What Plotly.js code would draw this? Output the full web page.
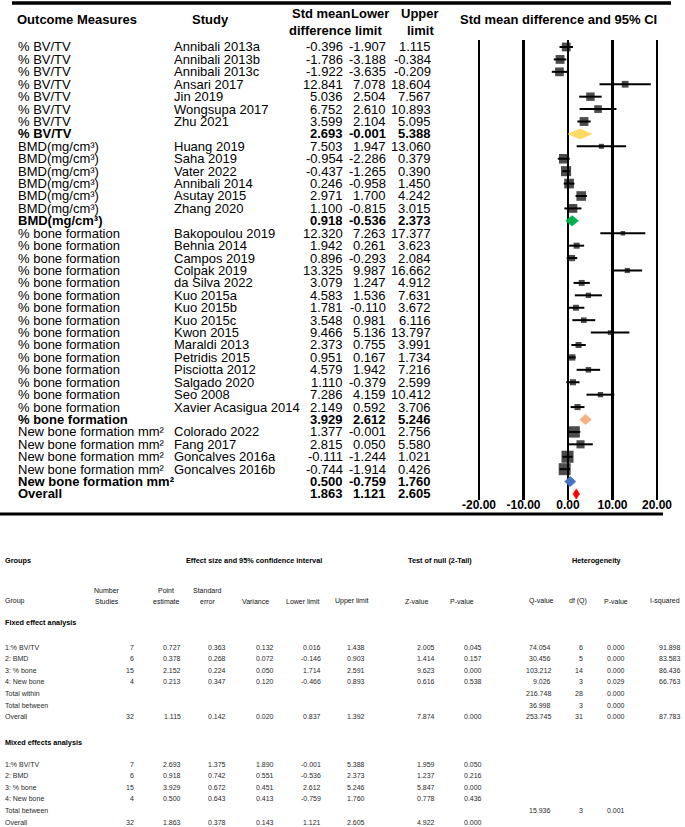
<!DOCTYPE html>
<html><head><meta charset="utf-8">
<script src="https://cdn.plot.ly/plotly-3.0.1.min.js"></script>
<style>html,body{margin:0;padding:0;background:#fff}#chart{width:685px;height:827px}</style>
</head><body><div id="chart"></div>
<script>
// ---------- Forest plot data ----------
const groupNames = ['% BV/TV', 'BMD(mg/cm³)', '% bone formation', 'New bone formation mm²'];
const studyNames = [
  'Annibali 2013a','Annibali 2013b','Annibali 2013c','Ansari 2017','Jin 2019','Wongsupa 2017','Zhu 2021',
  'Huang 2019','Saha 2019','Vater 2022','Annibali 2014','Asutay 2015','Zhang 2020',
  'Bakopoulou 2019','Behnia 2014','Campos 2019','Colpak 2019','da Silva 2022','Kuo 2015a','Kuo 2015b','Kuo 2015c',
  'Kwon 2015','Maraldi 2013','Petridis 2015','Pisciotta 2012','Salgado 2020','Seo 2008','Xavier Acasigua 2014',
  'Colorado 2022','Fang 2017','Goncalves 2016a','Goncalves 2016b'
];
const studyGroup = [0,0,0,0,0,0,0, 1,1,1,1,1,1, 2,2,2,2,2,2,2,2,2,2,2,2,2,2,2, 3,3,3,3];
const studyEst = [-0.396,-1.786,-1.922,12.841,5.036,6.752,3.599,
  7.503,-0.954,-0.437,0.246,2.971,1.100,
  12.320,1.942,0.896,13.325,3.079,4.583,1.781,3.548,9.466,2.373,0.951,4.579,1.110,7.286,2.149,
  1.377,2.815,-0.111,-0.744];
const studyLower = [-1.907,-3.188,-3.635,7.078,2.504,2.610,2.104,
  1.947,-2.286,-1.265,-0.958,1.700,-0.815,
  7.263,0.261,-0.293,9.987,1.247,1.536,-0.110,0.981,5.136,0.755,0.167,1.942,-0.379,4.159,0.592,
  -0.001,0.050,-1.244,-1.914];
const studyUpper = [1.115,-0.384,-0.209,18.604,7.567,10.893,5.095,
  13.060,0.379,0.390,1.450,4.242,3.015,
  17.377,3.623,2.084,16.662,4.912,7.631,3.672,6.116,13.797,3.991,1.734,7.216,2.599,10.412,3.706,
  2.756,5.580,1.021,0.426];
const summaryEst = [2.693, 0.918, 3.929, 0.500];
const summaryLower = [-0.001, -0.536, 2.612, -0.759];
const summaryUpper = [5.388, 2.373, 5.246, 1.760];
const overallEst = [1.863], overallLower = [1.121], overallUpper = [2.605];
const xTickVals = [-20, -10, 0, 10, 20];

// ---------- Table data ----------
const tableGroupLabels = ['1:% BV/TV', '2: BMD', '3: % bone', '4: New bone'];
const fixedN = [7, 6, 15, 4];
const fixedPoint = [0.727, 0.378, 2.152, 0.213];
const fixedSE = [0.363, 0.268, 0.224, 0.347];
const fixedVar = [0.132, 0.072, 0.050, 0.120];
const fixedLo = [0.016, -0.146, 1.714, -0.466];
const fixedHi = [1.438, 0.903, 2.591, 0.893];
const fixedZ = [2.005, 1.414, 9.623, 0.616];
const fixedP = [0.045, 0.157, 0.000, 0.538];
const fixedQ = [74.054, 30.456, 103.212, 9.026];
const fixedDf = [6, 5, 14, 3];
const fixedQP = [0.000, 0.000, 0.000, 0.029];
const fixedI2 = [91.898, 83.583, 86.436, 66.763];
const fixedTotalWithin = [216.748, 28, 0.000];
const fixedTotalBetween = [36.998, 3, 0.000];
const fixedOverall = [32, 1.115, 0.142, 0.020, 0.837, 1.392, 7.874, 0.000, 253.745, 31, 0.000, 87.783];
const mixedN = [7, 6, 15, 4];
const mixedPoint = [2.693, 0.918, 3.929, 0.500];
const mixedSE = [1.375, 0.742, 0.672, 0.643];
const mixedVar = [1.890, 0.551, 0.451, 0.413];
const mixedLo = [-0.001, -0.536, 2.612, -0.759];
const mixedHi = [5.388, 2.373, 5.246, 1.760];
const mixedZ = [1.959, 1.237, 5.847, 0.778];
const mixedP = [0.050, 0.216, 0.000, 0.436];
const mixedTotalBetween = [15.936, 3, 0.001];
const mixedOverall = [32, 1.863, 0.378, 0.143, 1.121, 2.605, 4.922, 0.000];

// ---------- Build rows ----------
const W = 685, H = 827;
const FONT = 'Liberation Sans, Arial, sans-serif';
const diamondColors = ['#FFD966', '#00B050', '#F4B183', '#4472C4'];
const overallColor = '#FF0000';

const rows = [];
const studyRow = [];
const summaryRow = [];
for (let g = 0; g < groupNames.length; g++) {
  studyNames.forEach((s, i) => {
    if (studyGroup[i] === g) {
      studyRow[i] = rows.length;
      rows.push({outcome: groupNames[g], study: s, est: studyEst[i], lo: studyLower[i], hi: studyUpper[i], bold: false});
    }
  });
  summaryRow[g] = rows.length;
  rows.push({outcome: groupNames[g], study: '', est: summaryEst[g], lo: summaryLower[g], hi: summaryUpper[g], bold: true});
}
const overallRow = rows.length;
rows.push({outcome: 'Overall', study: '', est: overallEst[0], lo: overallLower[0], hi: overallUpper[0], bold: true});

// random-effects relative weights within each group (DerSimonian-Laird using table Q)
const seOf = i => (studyUpper[i] - studyLower[i]) / 3.92;
const sizes = new Array(studyNames.length);
for (let g = 0; g < groupNames.length; g++) {
  const idx = studyNames.map((_, i) => i).filter(i => studyGroup[i] === g);
  const wf = idx.map(i => 1 / Math.pow(seOf(i), 2));
  const S1 = wf.reduce((a, b) => a + b, 0);
  const S2 = wf.reduce((a, b) => a + b * b, 0);
  const tau2 = Math.max(0, (fixedQ[g] - fixedDf[g]) / (S1 - S2 / S1));
  const wr = idx.map(i => 1 / (Math.pow(seOf(i), 2) + tau2));
  const tot = wr.reduce((a, b) => a + b, 0);
  idx.forEach((i, k) => { sizes[i] = Math.max(4.5, 22 * Math.sqrt(wr[k] / tot)); });
}

// ---------- Axis geometry ----------
const yTopPx = 40, yBotPx = 500, row0Px = 47, rowStep = (494 - 47) / 36;
const yRange = [36 + (yBotPx - 494) / rowStep, -(row0Px - yTopPx) / rowStep];
const x0Px = 568, pxPerUnit = 4.45, xLeftPx = 470, xRightPx = 666;
const xRange = [(xLeftPx - x0Px) / pxPerUnit, (xRightPx - x0Px) / pxPerUnit];

const traces = [];
traces.push({
  type: 'scatter', mode: 'markers', hoverinfo: 'skip',
  x: studyEst, y: studyRow,
  marker: {symbol: 'square', size: sizes, color: '#000', line: {width: 0}},
  error_x: {type: 'data', symmetric: false,
    array: studyUpper.map((u, i) => u - studyEst[i]),
    arrayminus: studyLower.map((l, i) => studyEst[i] - l),
    color: '#000', thickness: 2, width: 0}
});
const dh = 0.42;
function diamond(est, lo, hi, y, color) {
  traces.push({
    type: 'scatter', mode: 'lines', hoverinfo: 'skip', fill: 'toself',
    x: [lo, est, hi, est, lo], y: [y, y - dh, y, y + dh, y],
    fillcolor: color, line: {color: color, width: 0.5}
  });
}
summaryEst.forEach((e, g) => diamond(e, summaryLower[g], summaryUpper[g], summaryRow[g], diamondColors[g]));
diamond(overallEst[0], overallLower[0], overallUpper[0], overallRow, overallColor);

// ---------- Annotations ----------
const ann = [];
const px = x => x / W, py = y => 1 - y / H;
function ptext(x, y, s, o) {
  o = o || {};
  ann.push({xref: 'paper', yref: 'paper', x: px(x), y: py(y), text: s, showarrow: false,
    xanchor: o.xa || 'left', yanchor: 'middle', align: o.align || 'center',
    font: {family: FONT, size: o.size || 13, color: o.color || '#000'}});
}
function rtext(x, row, s, xa, bold) {
  ann.push({xref: 'paper', yref: 'y', x: px(x), y: row, text: bold ? '<b>' + s + '</b>' : s,
    showarrow: false, xanchor: xa, yanchor: 'middle', borderpad: 0,
    font: {family: FONT, size: 13, color: '#000'}});
}
// forest headers
ptext(15, 20, '<b>Outcome Measures</b>');
ptext(190, 20, '<b>Study</b>');
ptext(321, 14, '<b>Std mean</b>', {xa: 'center'});
ptext(320, 31, '<b>difference</b>', {xa: 'center'});
ptext(370, 14, '<b>Lower</b>', {xa: 'center'});
ptext(368, 31, '<b>limit</b>', {xa: 'center'});
ptext(420, 14, '<b>Upper</b>', {xa: 'center'});
ptext(420, 31, '<b>limit</b>', {xa: 'center'});
ptext(558, 19, '<b>Std mean difference and 95% CI</b>', {xa: 'center'});
rows.forEach((r, i) => {
  rtext(17, i, r.outcome, 'left', r.bold);
  if (r.study) rtext(173, i, r.study, 'left', false);
  rtext(344, i, r.est.toFixed(3), 'right', r.bold);
  rtext(387, i, r.lo.toFixed(3), 'right', r.bold);
  rtext(432, i, r.hi.toFixed(3), 'right', r.bold);
});

// table
const TS = 7, TB = 7.3, TC = '#2a2a2a';
ptext(3, 560, '<b>Groups</b>', {size: TB});
ptext(254, 560, '<b>Effect size and 95% confidence interval</b>', {xa: 'center', size: TB});
ptext(440, 560, '<b>Test of null (2-Tail)</b>', {xa: 'center', size: TB});
ptext(597, 560, '<b>Heterogeneity</b>', {xa: 'center', size: TB});
const hdr = [
  ['Group', 3, 'left', false], ['Number', 107, 'center', true], ['Point', 166, 'center', true],
  ['Standard', 207, 'center', true], ['Variance', 255, 'center', false], ['Lower limit', 303, 'center', false],
  ['Upper limit', 352, 'center', false], ['Z-value', 416, 'center', false], ['P-value', 462, 'center', false],
  ['Q-value', 541, 'center', false], ['df (Q)', 578, 'center', false], ['P-value', 616, 'center', false],
  ['I-squared', 665, 'center', false]
];
const hdr2 = {'Number': 'Studies', 'Point': 'estimate', 'Standard': 'error'};
hdr.forEach(([t, x, xa, two]) => {
  if (two) {
    ptext(x, 590, t, {xa: xa, size: TS, color: '#111'});
    ptext(x, 601, hdr2[t], {xa: xa, size: TS, color: '#111'});
  } else {
    ptext(x, 601, t, {xa: xa, size: TS, color: '#111'});
  }
});
const colRight = [136, 183, 228, 276, 323, 367, 437, 484, 553, 585, 627, 683];
const intCols = new Set([0, 9]);
function tableRow(y, label, vals, startCol) {
  ptext(3, y, label, {size: TS, color: TC});
  vals.forEach((v, k) => {
    const c = startCol + k;
    if (v === null || v === undefined) return;
    ptext(colRight[c], y, intCols.has(c) ? String(v) : v.toFixed(3), {xa: 'right', size: TS, color: TC});
  });
}
ptext(3, 622, '<b>Fixed effect analysis</b>', {size: TB});
const fStep = 11.66;
tableGroupLabels.forEach((lab, g) => {
  tableRow(647 + g * fStep, lab, [fixedN[g], fixedPoint[g], fixedSE[g], fixedVar[g], fixedLo[g], fixedHi[g],
    fixedZ[g], fixedP[g], fixedQ[g], fixedDf[g], fixedQP[g], fixedI2[g]], 0);
});
tableRow(647 + 4 * fStep, 'Total within', fixedTotalWithin, 8);
tableRow(647 + 5 * fStep, 'Total between', fixedTotalBetween, 8);
tableRow(647 + 6 * fStep, 'Overall', fixedOverall, 0);
ptext(3, 742, '<b>Mixed effects analysis</b>', {size: TB});
const mStep = 11.6;
tableGroupLabels.forEach((lab, g) => {
  tableRow(764 + g * mStep, lab, [mixedN[g], mixedPoint[g], mixedSE[g], mixedVar[g], mixedLo[g], mixedHi[g],
    mixedZ[g], mixedP[g]], 0);
});
tableRow(764 + 4 * mStep, 'Total between', mixedTotalBetween, 8);
tableRow(764 + 5 * mStep, 'Overall', mixedOverall, 0);

const shapes = [
  {type: 'line', xref: 'paper', yref: 'paper', x0: px(12), x1: px(671), y0: py(3), y1: py(3), line: {color: '#000', width: 3.5}},
  {type: 'line', xref: 'paper', yref: 'paper', x0: px(0), x1: px(663), y0: py(514), y1: py(514), line: {color: '#000', width: 3}}
];

const layout = {
  width: W, height: H, margin: {l: 0, r: 0, t: 0, b: 0}, showlegend: false,
  paper_bgcolor: '#fff', plot_bgcolor: '#fff',
  xaxis: {domain: [px(xLeftPx), px(xRightPx)], range: xRange, tickvals: xTickVals,
    ticktext: xTickVals.map(v => '<b>' + v.toFixed(2) + '</b>'),
    showgrid: true, gridcolor: '#000', gridwidth: 2.5, zeroline: false, showline: false, ticks: '',
    ticklabelstandoff: -4,
    tickfont: {family: FONT, size: 12, color: '#000'}, fixedrange: true},
  yaxis: {domain: [py(yBotPx), py(yTopPx)], range: yRange, showgrid: false, zeroline: false,
    showticklabels: false, ticks: '', showline: false, fixedrange: true},
  annotations: ann, shapes: shapes
};
Plotly.newPlot('chart', traces, layout, {staticPlot: true, displayModeBar: false});
</script></body></html>
